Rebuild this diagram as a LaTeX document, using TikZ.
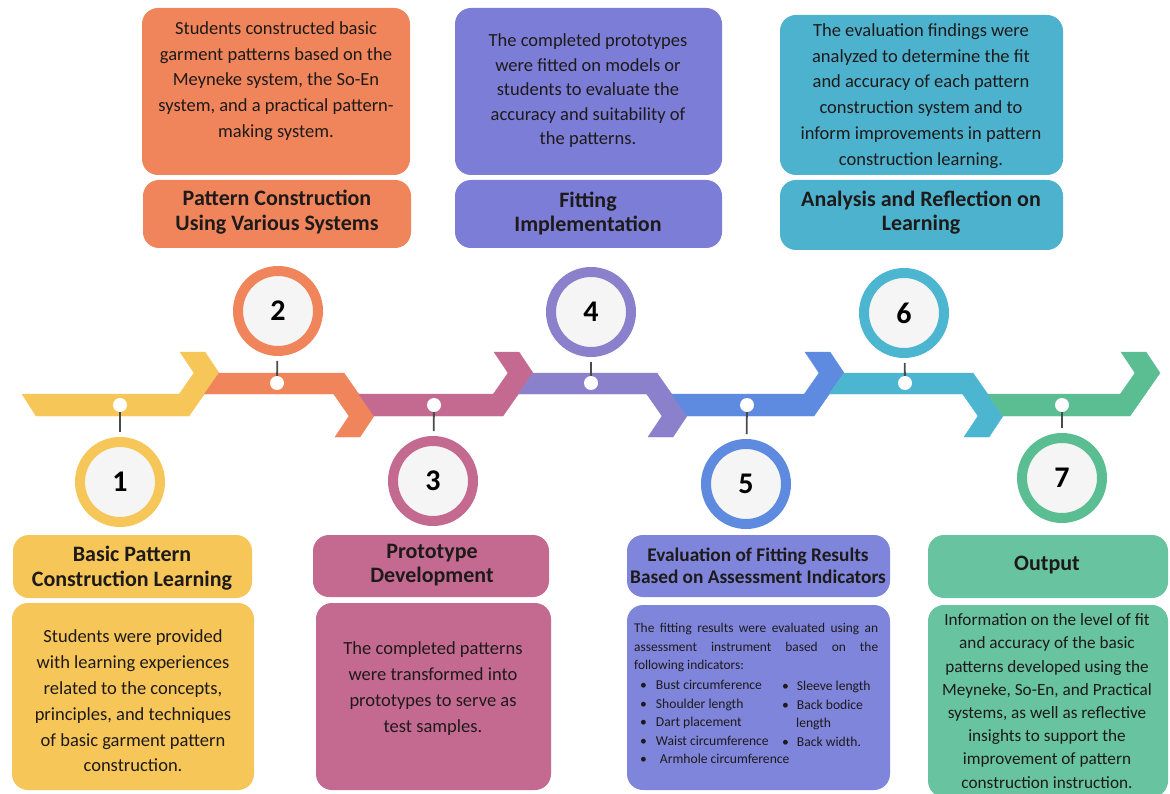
\documentclass[tikz,border=0pt]{standalone}
\usepackage{fontspec}
\setmainfont{Carlito}
\usetikzlibrary{shadows}
\definecolor{ylw}{HTML}{F6C659}
\definecolor{org}{HTML}{F0855B}
\definecolor{pnk}{HTML}{C46A91}
\definecolor{pur}{HTML}{8A80CB}
\definecolor{purbox}{HTML}{7C7DD6}
\definecolor{blu}{HTML}{5E8BE0}
\definecolor{blubox}{HTML}{7E85DB}
\definecolor{tea}{HTML}{4CB6D0}
\definecolor{teabox}{HTML}{4DB2CD}
\definecolor{grn}{HTML}{5BBE93}
\definecolor{grnbox}{HTML}{68C3A1}
\definecolor{txt}{HTML}{1E1A1A}
\definecolor{disk}{HTML}{F5F5F5}
\definecolor{stemc}{HTML}{4A4A4A}
% lower ribbon segment: #1 colour, #2 previous chevron x, #3 own chevron x
\newcommand{\ribL}[3]{%
  \fill[#1,draw=#1,line width=0.4pt] (#2+14.65,394) -- (#3-25.65,394) -- (#3-11,373) -- (#3-25,352) -- (#3,352)
    -- (#3+14,373) -- (#3-16,416) -- (#2+30,416) -- cycle;}
% upper ribbon segment
\newcommand{\ribU}[3]{%
  \fill[#1,draw=#1,line width=0.4pt] (#2+14,373) -- (#3,373) -- (#3+30,416) -- (#3+16,437) -- (#3-9,437)
    -- (#3+5,416) -- (#3-10.35,394) -- (#2-0.65,394) -- cycle;}
\begin{document}
\begin{tikzpicture}[x=1pt,y=-1pt,
  box/.style={rounded corners=16pt,inner sep=0pt,draw=none},
  body/.style={align=center,text=txt,inner sep=0pt,font=\fontsize{18.5}{25.8}\selectfont},
  ttl/.style={align=center,text=txt,inner sep=0pt,font=\bfseries\fontsize{22}{24.5}\selectfont},
  num/.style={circle,minimum size=80pt,line width=10pt,fill=disk,text=black,
    font=\bfseries\fontsize{30}{30}\selectfont,inner sep=0pt,
    drop shadow={opacity=0.25,shadow xshift=2pt,shadow yshift=-3pt}},
  dot/.style={circle,fill=white,minimum size=14pt,inner sep=0pt},
  stem/.style={draw=stemc,line width=1.8pt,shorten >=5pt}]
\useasboundingbox (0,0) rectangle (1170,794);
\fill[white] (0,0) rectangle (1170,794);

% ribbon
\fill[ylw,draw=ylw,line width=0.4pt] (22,394) -- (179.35,394) -- (194,373) -- (180,352) -- (205,352)
   -- (219,373) -- (189,416) -- (36,416) -- cycle;
\ribU{org}{205}{344}
\ribL{pnk}{344}{519}
\ribU{pur}{519}{657}
\ribL{blu}{657}{830}
\ribU{tea}{830}{973}
\ribL{grn}{973}{1146}

% dots
\node[dot] (d1) at (120,405) {};
\node[dot] (d2) at (277,383) {};
\node[dot] (d3) at (434,405) {};
\node[dot] (d4) at (591,383) {};
\node[dot] (d5) at (747,405) {};
\node[dot] (d6) at (905,383) {};
\node[dot] (d7) at (1062,405) {};

% number circles
\node[num,draw=ylw] (c1) at (120,482) {1};
\node[num,draw=org] (c2) at (278,311) {2};
\node[num,draw=pnk] (c3) at (433,481) {3};
\node[num,draw=pur] (c4) at (591,312) {4};
\node[num,draw=blu] (c5) at (746,484) {5};
\node[num,draw=tea] (c6) at (904,313) {6};
\node[num,draw=grn] (c7) at (1062,478) {7};

\draw[stem] (d1) -- (c1);
\draw[stem] (d2) -- (c2);
\draw[stem] (d3) -- (c3);
\draw[stem] (d4) -- (c4);
\draw[stem] (d5) -- (c5);
\draw[stem] (d6) -- (c6);
\draw[stem] (d7) -- (c7);

% boxes
\node[box,fill=org,minimum width=268pt,minimum height=167pt] (B2) at (276,91.5) {};
\node[box,fill=org,minimum width=268pt,minimum height=68pt] (T2) at (277,214) {};
\node[box,fill=purbox,minimum width=267pt,minimum height=167pt] (B4) at (588.5,91.5) {};
\node[box,fill=purbox,minimum width=267pt,minimum height=68pt] (T4) at (588.5,214) {};
\node[box,fill=teabox,minimum width=283pt,minimum height=160pt] (B6) at (921.5,95) {};
\node[box,fill=teabox,minimum width=283pt,minimum height=70pt] (T6) at (921.5,215) {};
\node[box,fill=ylw,minimum width=239pt,minimum height=63pt] (T1) at (132.5,566.5) {};
\node[box,fill=ylw,minimum width=242pt,minimum height=187pt] (B1) at (133,696.5) {};
\node[box,fill=pnk,minimum width=236pt,minimum height=62pt] (T3) at (431,566) {};
\node[box,fill=pnk,minimum width=235pt,minimum height=187pt] (B3) at (433.5,696.5) {};
\node[box,fill=blubox,minimum width=263pt,minimum height=62pt] (T5) at (758.5,566) {};
\node[box,fill=blubox,minimum width=263pt,minimum height=185pt] (B5) at (758.5,697.5) {};
\node[box,fill=grnbox,minimum width=240pt,minimum height=63pt] (T7) at (1048,566.5) {};
\node[box,fill=grnbox,minimum width=240pt,minimum height=192pt] (B7) at (1048,701) {};

% titles
\node[ttl] (t1) at (132,568) {Basic Pattern\\Construction Learning};
\node[ttl] (t2) at (277,212) {Pattern Construction\\Using Various Systems};
\node[ttl] (t3) at (432,565) {Prototype\\Development};
\node[ttl] (t4) at (588,213.5) {Fitting\\Implementation};
\node[ttl,font=\bfseries\fontsize{19.3}{22}\selectfont] (t5) at (758,566) {Evaluation of Fitting Results\\Based on Assessment Indicators};
\node[ttl] (t6) at (921,212.5) {Analysis and Reflection on\\Learning};
\node[ttl] (t7) at (1047,565) {Output};

% bodies
\node[body] (b1) at (133,701) {Students were provided\\with learning experiences\\related to the concepts,\\principles, and techniques\\of basic garment pattern\\construction.};
\node[body] (b2) at (276,81) {Students constructed basic\\garment patterns based on the\\Meyneke system, the So-En\\system, and a practical pattern-\\making system.};
\node[body] (b3) at (433,688.5) {The completed patterns\\were transformed into\\prototypes to serve as\\test samples.};
\node[body,font=\fontsize{18.5}{24.5}\selectfont] (b4) at (588,91) {The completed prototypes\\were fitted on models or\\students to evaluate the\\accuracy and suitability of\\the patterns.};
\node[body] (b6) at (921,96) {The evaluation findings were\\analyzed to determine the fit\\and accuracy of each pattern\\construction system and to\\inform improvements in pattern\\construction learning.};
\node[body,font=\fontsize{17.2}{23.2}\selectfont] (b7) at (1047,701) {Information on the level of fit\\and accuracy of the basic\\patterns developed using the\\Meyneke, So-En, and Practical\\systems, as well as reflective\\insights to support the\\improvement of pattern\\construction instruction.};

% box 5 body
\node[anchor=north west,inner sep=0pt,text=txt,text width=244pt,align=justify,
  font=\fontsize{13.4}{18.5}\selectfont] (b5) at (634,623)
  {The fitting results were evaluated using an\linebreak assessment instrument based on the\linebreak following indicators:};
\node[anchor=north west,inner sep=0pt,text=txt,align=left,
  font=\fontsize{13.6}{18.5}\selectfont] (b5l) at (640,680)
  {\textbullet\hspace{9pt}Bust circumference\\
   \textbullet\hspace{9pt}Shoulder length\\
   \textbullet\hspace{9pt}Dart placement\\
   \textbullet\hspace{9pt}Waist circumference\\
   \textbullet\hspace{13pt}Armhole circumference};
\node[anchor=north west,inner sep=0pt,text=txt,align=left,
  font=\fontsize{13.6}{18.5}\selectfont] (b5r) at (782,681)
  {\textbullet\hspace{8pt}Sleeve length\\
   \textbullet\hspace{8pt}Back bodice\\
   \hspace{14pt}length\\
   \textbullet\hspace{8pt}Back width.};
\end{tikzpicture}
\end{document}
